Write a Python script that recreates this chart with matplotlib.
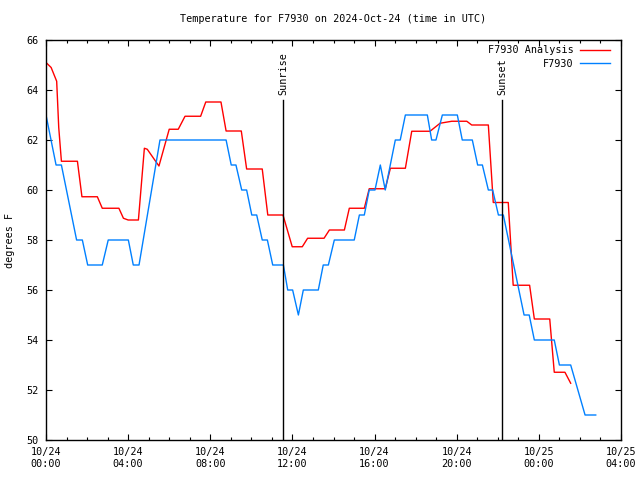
import matplotlib
matplotlib.use("Agg")
import matplotlib.pyplot as plt
from matplotlib.ticker import MultipleLocator

# Hours since 2024-10-24 00:00 UTC
analysis_hours = [0.0, 0.25, 0.52, 0.62, 0.75, 1.53, 1.75, 2.5, 2.74, 3.55, 3.77, 4.0, 4.5,
                  4.79, 4.93, 5.5, 6.0, 6.44, 6.77, 7.53, 7.78, 8.52, 8.77, 9.51, 9.77,
                  10.53, 10.8, 11.54, 11.99, 12.48, 12.74, 13.54, 13.8, 14.53, 14.77,
                  15.5, 15.74, 16.52, 16.77, 17.5, 17.81, 18.7, 19.19, 19.76, 20.49,
                  20.73, 21.54, 21.78, 22.51, 22.75, 23.55, 23.78, 24.53, 24.75, 25.27, 25.55]
analysis_temp = [65.1, 64.9, 64.35, 62.5, 61.15, 61.15, 59.73, 59.73, 59.27, 59.27, 58.87, 58.8, 58.8,
                 61.67, 61.63, 60.96, 62.43, 62.43, 62.95, 62.95, 63.52, 63.52, 62.36, 62.36, 60.84,
                 60.84, 59.0, 59.0, 57.73, 57.73, 58.07, 58.07, 58.4, 58.4, 59.27,
                 59.27, 60.05, 60.05, 60.87, 60.87, 62.35, 62.35, 62.67, 62.75, 62.75,
                 62.6, 62.6, 59.5, 59.5, 56.19, 56.19, 54.84, 54.84, 52.71, 52.71, 52.27]

station_hours = [0.0, 0.49, 0.75, 1.49, 1.77, 2.03, 2.74, 3.03, 4.01, 4.25, 4.53, 5.55,
                 8.77, 9.02, 9.25, 9.53, 9.77, 10.02, 10.26, 10.53, 10.78, 11.04, 11.56,
                 11.77, 12.01, 12.29, 12.53, 13.26, 13.5, 13.75, 14.04, 15.01, 15.26, 15.5,
                 15.74, 16.02, 16.28, 16.52, 17.01, 17.25, 17.5, 18.57, 18.78, 18.99, 19.3,
                 20.03, 20.27, 20.76, 21.02, 21.25, 21.54, 21.75, 22.03, 22.27, 23.28,
                 23.53, 23.78, 24.75, 25.0, 25.55, 26.25, 26.77]
station_temp = [63, 61, 61, 58, 58, 57, 57, 58, 58, 57, 57, 62,
                62, 61, 61, 60, 60, 59, 59, 58, 58, 57, 57,
                56, 56, 55, 56, 56, 57, 57, 58, 58, 59, 59,
                60, 60, 61, 60, 62, 62, 63, 63, 62, 62, 63,
                63, 62, 62, 61, 61, 60, 60, 59, 59, 55,
                55, 54, 54, 53, 53, 51, 51]

sunrise_hour = 11.56
sunset_hour = 22.22

xtick_hours = [0, 4, 8, 12, 16, 20, 24, 28]
xtick_labels = ["10/24\n00:00", "10/24\n04:00", "10/24\n08:00", "10/24\n12:00",
                "10/24\n16:00", "10/24\n20:00", "10/25\n00:00", "10/25\n04:00"]

FONT = "DejaVu Sans Mono"
FS = 7.3
plt.rcParams["font.family"] = FONT
plt.rcParams["font.size"] = FS

fig = plt.figure(figsize=(6.4, 4.8), dpi=100)
ax = fig.add_axes([46/640, 1-440/480, (621-46)/640, 400/480])

ax.plot(analysis_hours, analysis_temp, color="#ff0000", lw=1.0, label="F7930 Analysis")
ax.plot(station_hours, station_temp, color="#0080ff", lw=1.0, label="F7930")

ax.set_xlim(0, 28)
ax.set_ylim(50, 66)
ax.set_xticks(xtick_hours)
ax.set_xticklabels(xtick_labels)
ax.xaxis.set_minor_locator(MultipleLocator(1))
ax.set_yticks(range(50, 67, 2))

ax.tick_params(which="major", direction="in", length=4.5, width=0.8, top=True, right=True, pad=5, labelsize=FS)
ax.tick_params(which="minor", direction="in", length=2.2, width=0.8, top=True, right=True)
for s in ax.spines.values():
    s.set_linewidth(1.0)

top_frac = (440-100)/400
for h, name in [(sunrise_hour, "Sunrise"), (sunset_hour, "Sunset")]:
    ax.axvline(h, ymin=0, ymax=top_frac, color="black", lw=1.0)
    ax.text(h, 50 + 16*top_frac + 0.2, name, rotation=90, ha="center", va="bottom", fontsize=FS)

fig.text(333/640, 1-19/480, "Temperature for F7930 on 2024-Oct-24 (time in UTC)",
         ha="center", va="center", fontsize=FS)
fig.text(10/640, 0.5, "degrees F", rotation=90, ha="center", va="center", fontsize=FS)

leg = ax.legend(loc="upper right", markerfirst=False, frameon=False, fontsize=FS,
                handlelength=3.0, handletextpad=0.6, labelspacing=0.35,
                borderaxespad=0.3, bbox_to_anchor=(0.994, 1.005))

fig.savefig("out.png", dpi=100)
